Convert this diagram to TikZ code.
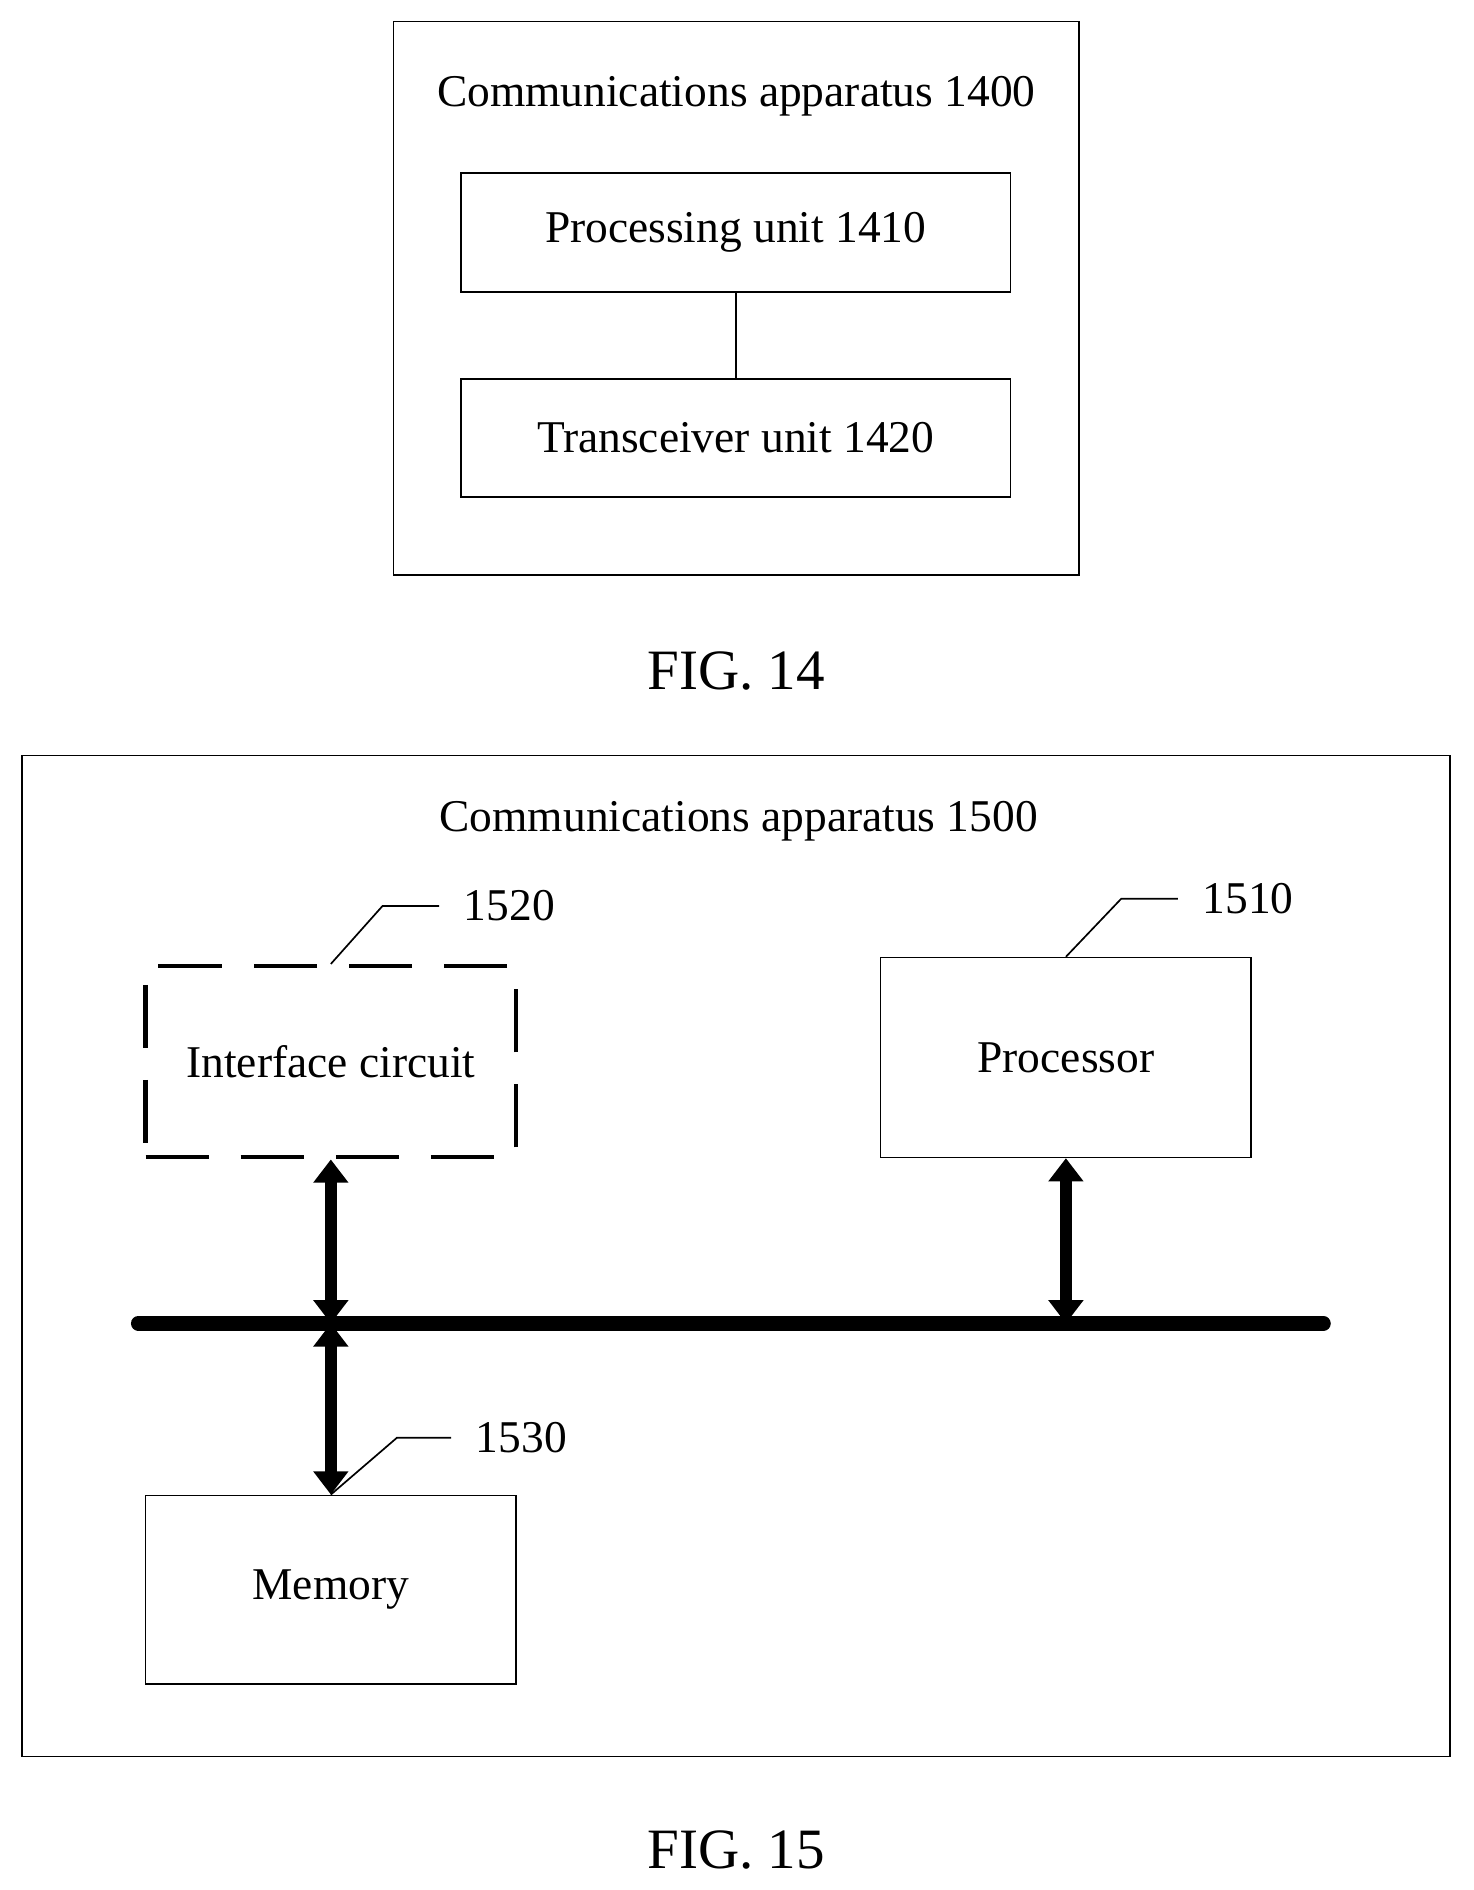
\documentclass[tikz,border=0pt]{standalone}
\usepackage{fontspec}
\setmainfont{Liberation Serif}
\usetikzlibrary{arrows.meta,positioning}
\tikzset{
	blk/.style={draw,thick,inner sep=0pt},
	lbl/.style={font=\fontsize{21.5}{25}\selectfont},
	fig/.style={font=\fontsize{27}{31}\selectfont},
	bus arrow/.style={line width=5.5pt,{Triangle[width=16pt,length=11pt]}-{Triangle[width=16pt,length=11pt]}},
	lead/.style={thick}
}
\begin{document}
\begin{tikzpicture}[x=0.02cm,y=-0.02cm]
	\useasboundingbox (0,0) rectangle (1225,1571);
	% FIG. 14
	\draw[thick] (327,18) rectangle (897,478);
	\node[lbl] (t14) at (612,80) {Communications apparatus 1400};
	\node[blk,lbl,minimum width=457*0.02cm,minimum height=99*0.02cm] (proc) at (611.5,193.5) {Processing unit 1410};
	\node[blk,lbl,minimum width=457*0.02cm,minimum height=98*0.02cm] (trx) at (611.5,364) {Transceiver unit 1420};
	\draw[thick] (proc) -- (trx);
	\node[fig] (f14) at (612,558) {FIG. 14};
	% FIG. 15
	\draw[thick] (18,628) rectangle (1205,1460);
	\node[lbl] (t15) at (614,683) {Communications apparatus 1500};
	\node[blk,lbl,line width=2pt,dash pattern=on 30pt off 15pt,minimum width=308*0.02cm,minimum height=159*0.02cm] (ifc) at (275,882.5) {Interface circuit};
	\node[blk,lbl,minimum width=308*0.02cm,minimum height=166*0.02cm] (cpu) at (886,879) {Processor};
	\node[blk,lbl,minimum width=308*0.02cm,minimum height=157*0.02cm] (mem) at (275,1321.5) {Memory};
	\coordinate (busL) at (115,1100);
	\coordinate (busR) at (1100,1100);
	\draw[line width=7pt,line cap=round] (busL) -- (busR);
	\draw[bus arrow] (ifc.south) -- (ifc.south |- busL);
	\draw[bus arrow] (cpu.south) -- (cpu.south |- busL);
	\draw[bus arrow] (mem.north |- busL) -- (mem.north);
	% reference numerals
	\draw[lead] (ifc.north) -- (318,753) -- (365,753) node[lbl,right=8pt] (n1520) {1520};
	\draw[lead] (cpu.north) -- (932,747) -- (979,747) node[lbl,right=8pt] (n1510) {1510};
	\draw[lead] (mem.north) -- (330,1195) -- (375,1195) node[lbl,right=8pt] (n1530) {1530};
	\node[fig] (f15) at (612,1538) {FIG. 15};
\end{tikzpicture}
\end{document}
